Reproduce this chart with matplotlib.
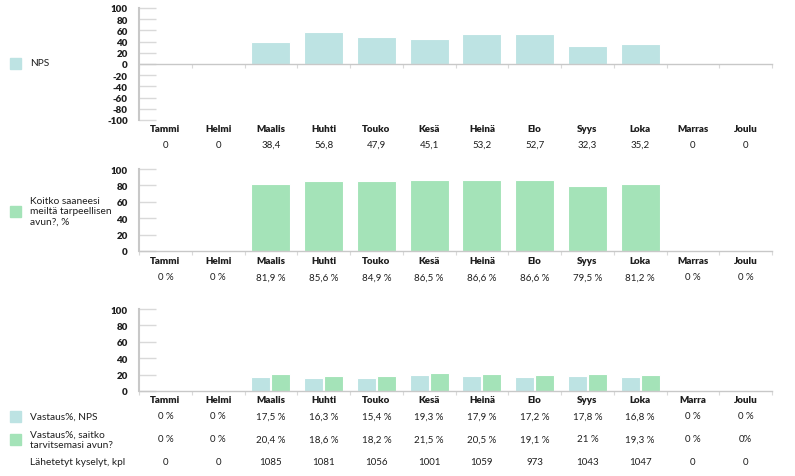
import matplotlib
matplotlib.use("Agg")
import matplotlib.pyplot as plt
import matplotlib.transforms as mtransforms
from matplotlib.patches import Rectangle

plt.rcParams['font.family'] = ['Lato', 'DejaVu Sans']
plt.rcParams['axes.unicode_minus'] = False

months = ["Tammi", "Helmi", "Maalis", "Huhti", "Touko", "Kesä",
          "Heinä", "Elo", "Syys", "Loka", "Marras", "Joulu"]
months_short = ["Tammi", "Helmi", "Maalis", "Huhti", "Touko", "Kesä",
                "Heinä", "Elo", "Syys", "Loka", "Marra", "Joulu"]

nps = [0, 0, 38.4, 56.8, 47.9, 45.1, 53.2, 52.7, 32.3, 35.2, 0, 0]
nps_labels = ["0", "0", "38,4", "56,8", "47,9", "45,1", "53,2", "52,7", "32,3", "35,2", "0", "0"]

help_pct = [0, 0, 81.9, 85.6, 84.9, 86.5, 86.6, 86.6, 79.5, 81.2, 0, 0]
help_labels = ["0 %", "0 %", "81,9 %", "85,6 %", "84,9 %", "86,5 %", "86,6 %",
               "86,6 %", "79,5 %", "81,2 %", "0 %", "0 %"]

resp_nps = [0, 0, 17.5, 16.3, 15.4, 19.3, 17.9, 17.2, 17.8, 16.8, 0, 0]
resp_nps_labels = ["0 %", "0 %", "17,5 %", "16,3 %", "15,4 %", "19,3 %", "17,9 %",
                   "17,2 %", "17,8 %", "16,8 %", "0 %", "0 %"]
resp_help = [0, 0, 20.4, 18.6, 18.2, 21.5, 20.5, 19.1, 21, 19.3, 0, 0]
resp_help_labels = ["0 %", "0 %", "20,4 %", "18,6 %", "18,2 %", "21,5 %", "20,5 %",
                    "19,1 %", "21 %", "19,3 %", "0 %", "0%"]
sent = ["0", "0", "1085", "1081", "1056", "1001", "1059", "973", "1043", "1047", "0", "0"]

BLUE = "#bde3e3"
GREEN = "#a4e3b8"
GRID = "#d9d9d9"
TXT = "#1e1e1e"

W, H = 795, 477
fig = plt.figure(figsize=(W / 100, H / 100), dpi=100)


def add_ax(top, bottom):
    left, right = 139, 772
    return fig.add_axes([left / W, 1 - bottom / H, (right - left) / W, (bottom - top) / H])


def style(ax, ymin, ymax, yticks):
    ax.set_xlim(-0.5, 11.5)
    ax.set_ylim(ymin, ymax)
    for s in ["top", "right"]:
        ax.spines[s].set_visible(False)
    ax.spines["left"].set_color("#c8c8c8")
    ax.spines["left"].set_linewidth(1.5)
    ax.spines["bottom"].set_color("#c8c8c8")
    ax.spines["bottom"].set_linewidth(1.0)
    ax.spines["bottom"].set_position(("data", 0))
    ax.set_yticks(yticks)
    ax.tick_params(axis="y", direction="in", length=12, width=1, color=GRID,
                   pad=8, labelsize=7, labelcolor=TXT)
    for lab in ax.get_yticklabels():
        lab.set_fontweight("heavy")
    ax.set_xticks([i + 0.5 for i in range(-1, 12)])
    ax.tick_params(axis="x", direction="out", length=3, color=GRID, labelbottom=False)


def row(ax, labels, ypix, bold=False):
    tr = mtransforms.blended_transform_factory(ax.transData, fig.transFigure)
    for i, t in enumerate(labels):
        ax.text(i, 1 - ypix / H, t, transform=tr, ha="center", va="center",
                fontsize=7, color=TXT, fontweight="heavy" if bold else "normal")


def legend_item(ypix, color, text):
    if color is not None:
        fig.patches.append(Rectangle((10 / W, 1 - (ypix + 6) / H), 11 / W, 11 / H,
                                     transform=fig.transFigure, color=color))
    fig.text(30 / W, 1 - ypix / H, text, ha="left", va="center", fontsize=7.3,
             color=TXT, linespacing=1.2)


x = list(range(12))

# Panel 1: NPS
ax1 = add_ax(9, 121)
ax1.bar(x, nps, width=0.74, color=BLUE, edgecolor="white", linewidth=0.8)
style(ax1, -100, 100, list(range(-100, 101, 20)))
row(ax1, months, 130, bold=True)
row(ax1, nps_labels, 145)
legend_item(64, BLUE, "NPS")

# Panel 2: help received
ax2 = add_ax(170, 252)
ax2.bar(x, help_pct, width=0.74, color=GREEN, edgecolor="white", linewidth=0.8)
style(ax2, 0, 100, list(range(0, 101, 20)))
row(ax2, months, 262, bold=True)
row(ax2, help_labels, 278)
legend_item(212, GREEN, "Koitko saaneesi\nmeiltä tarpeellisen\navun?, %")

# Panel 3: response rates
ax3 = add_ax(310, 392)
bw = 0.36
ax3.bar([i - 0.19 for i in x], resp_nps, width=bw, color=BLUE, edgecolor="white", linewidth=0.8)
ax3.bar([i + 0.19 for i in x], resp_help, width=bw, color=GREEN, edgecolor="white", linewidth=0.8)
style(ax3, 0, 100, list(range(0, 101, 20)))
row(ax3, months_short, 401, bold=True)
row(ax3, resp_nps_labels, 417)
row(ax3, resp_help_labels, 440)
row(ax3, sent, 463)
legend_item(417, BLUE, "Vastaus%, NPS")
legend_item(440, GREEN, "Vastaus%, saitko\ntarvitsemasi avun?")
legend_item(463, None, "Lähetetyt kyselyt, kpl")

fig.savefig("out.png", dpi=100)
